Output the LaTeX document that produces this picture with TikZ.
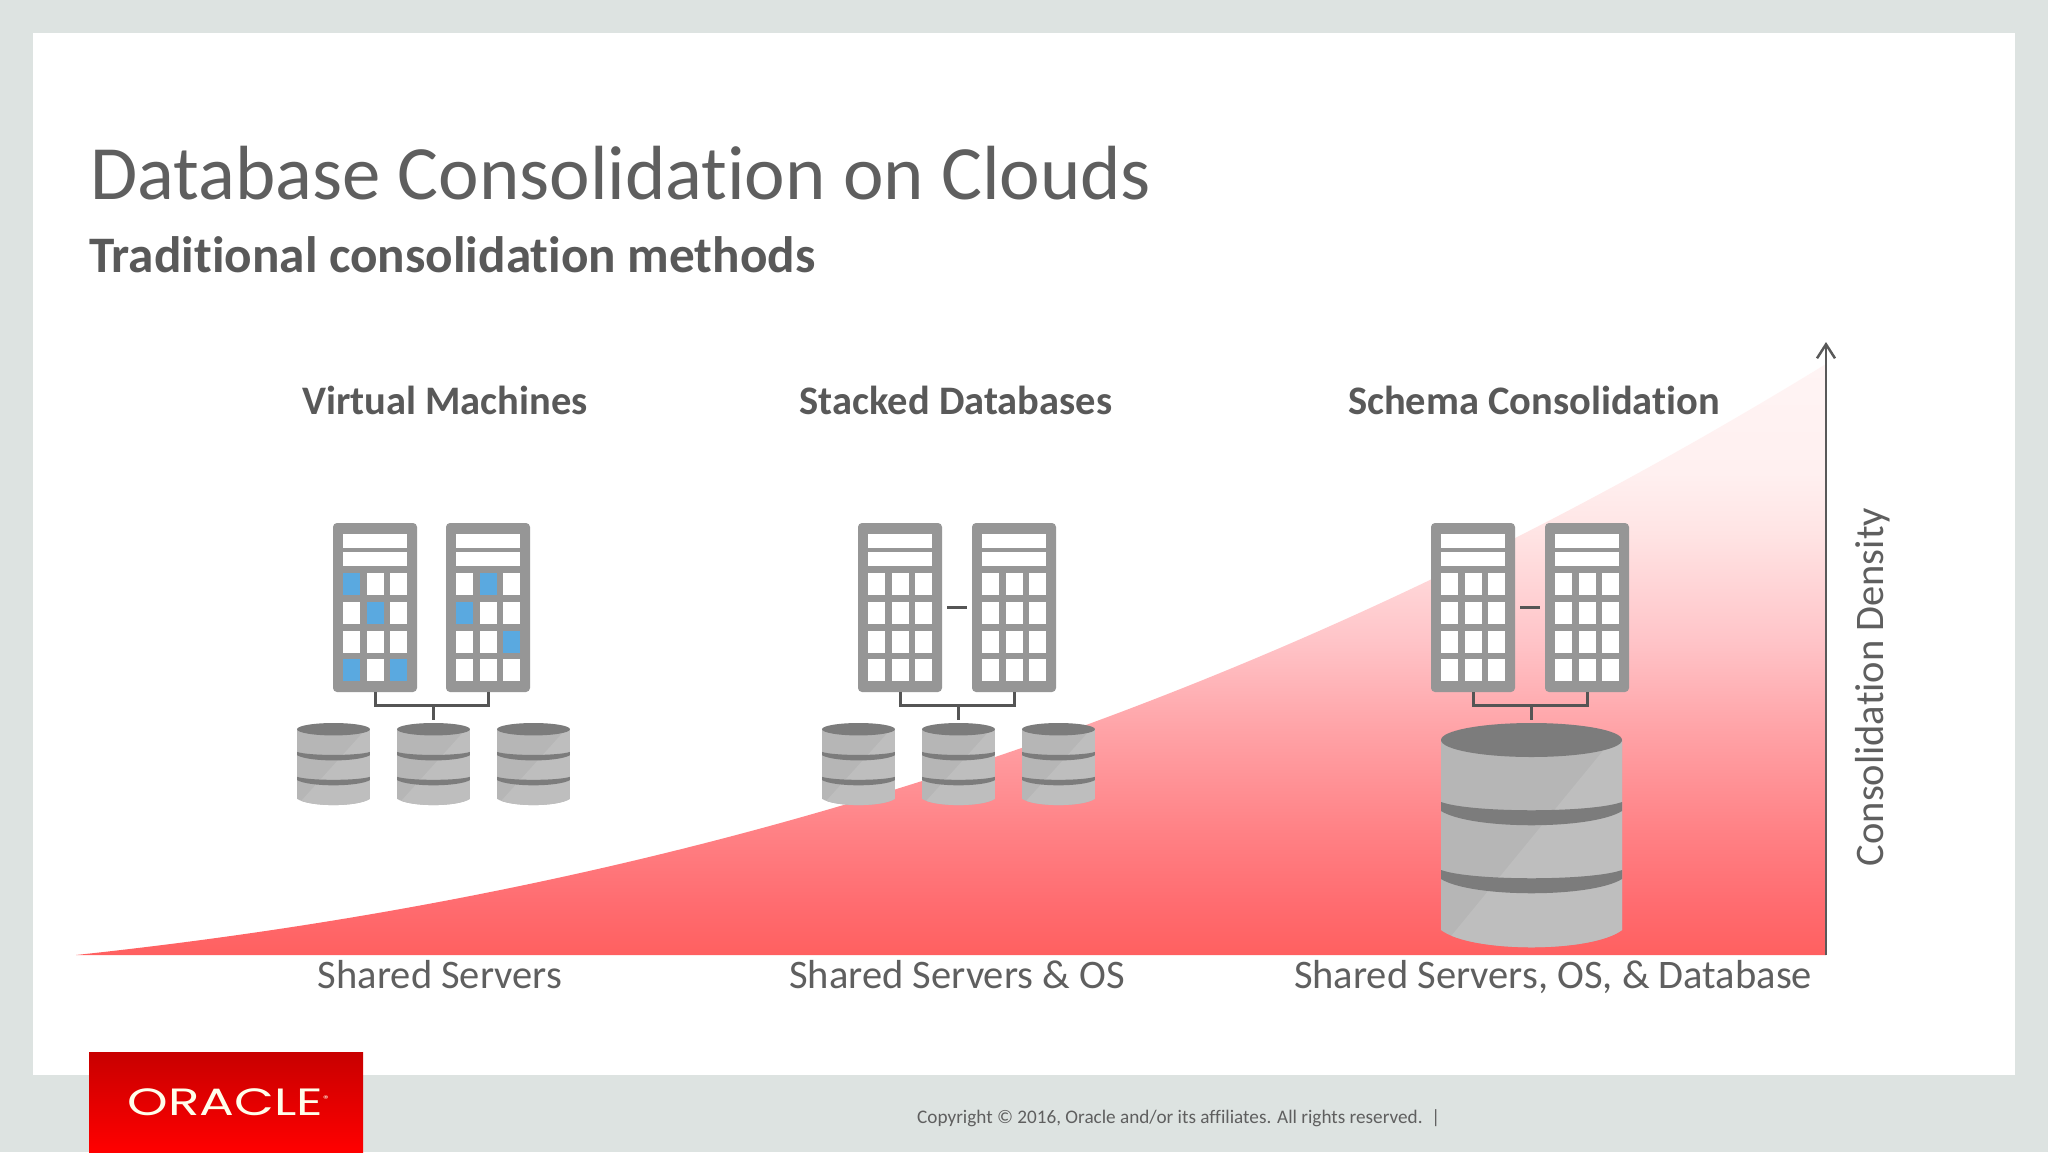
\documentclass[tikz,border=0pt]{standalone}
\usepackage{fontspec}
\setmainfont[RawFeature=-liga]{Carlito}
\newfontfamily\logofont{Poppins}
\usetikzlibrary{arrows.meta}
\definecolor{slidebg}{HTML}{DDE3E1}
\definecolor{inkgray}{HTML}{5F5F5F}
\definecolor{headgray}{HTML}{595959}
\definecolor{srvgray}{HTML}{969696}
\definecolor{connc}{HTML}{555555}
\definecolor{dbbody}{HTML}{B6B6B6}
\definecolor{dblight}{HTML}{BEBEBE}
\definecolor{dbdark}{HTML}{7C7C7C}
\definecolor{cellblue}{HTML}{5AA9E0}
\definecolor{wa}{HTML}{FF6060}
\definecolor{wb}{HTML}{FF6C70}
\definecolor{wc}{HTML}{FF8084}
\definecolor{wd}{HTML}{FFA0A4}
\definecolor{we}{HTML}{FFC4C8}
\definecolor{wf}{HTML}{FFE4E4}
\definecolor{wg}{HTML}{FFF0F0}
\definecolor{wh}{HTML}{FFF4F4}
\pgfdeclareverticalshading{wedgeshade}{100bp}{color(0bp)=(wa); color(25bp)=(wa); color(29.4bp)=(wb); color(35.2bp)=(wc); color(43.4bp)=(wd); color(51.6bp)=(we); color(60.7bp)=(wf); color(65.8bp)=(wg); color(75bp)=(wh); color(100bp)=(wh)}
\tikzset{
  txt/.style={inner sep=0pt,anchor=base},
  titletxt/.style={txt,anchor=base west,text=inkgray,font=\fontsize{76.8}{77}\selectfont},
  subtxt/.style={txt,anchor=base west,text=headgray,font=\fontsize{51.2}{52}\selectfont\bfseries},
  headtxt/.style={txt,text=headgray,font=\fontsize{40.5}{41}\selectfont\bfseries},
  bottxt/.style={txt,text=inkgray,font=\fontsize{40.5}{41}\selectfont},
  srvbox/.style={fill=srvgray,rounded corners=4pt,minimum width=84pt,minimum height=169pt,inner sep=0pt,draw=none},
  dbbox/.style={inner sep=0pt,anchor=north,draw=none},
  conn/.style={draw=connc,line width=3pt},
}
\newcommand{\serverbox}[2]{%
  \node[srvbox] (#1) at (#2,607.5) {};
  \begin{scope}[shift={(#1.north west)}]
    \fill[white] (10,11) rectangle (74,25);
    \fill[white] (10,29) rectangle (74,43);
    \foreach \r in {50,79,108,136}{\foreach \c in {10,34,57}{\fill[white] (\c,\r) rectangle ++(17,22);}}
  \end{scope}}
\newcommand{\bluecell}[3]{%
  \begin{scope}[shift={(#1.north west)}]\fill[cellblue] (#2,#3) rectangle ++(17,22);\end{scope}}
\newcommand{\dbicon}[5]{% name, cx, top, xscale, yscale
  \node[dbbox,minimum width=#4*181pt,minimum height=#5*224pt] (#1) at (#2,#3) {};
  \begin{scope}[shift={(#2,#3)},xscale=#4,yscale=#5]
    \fill[dbbody] (-90.5,17) -- (-90.5,207) .. controls (-60,230) and (60,230) .. (90.5,207) -- (90.5,17) -- cycle;
    \begin{scope}
      \clip (-90.5,17) -- (-90.5,207) .. controls (-60,230) and (60,230) .. (90.5,207) -- (90.5,17) -- cycle;
      \fill[dblight] (86,10) -- (-100,237) -- (100,237) -- (100,10) -- cycle;
    \end{scope}
    \fill[dbdark] (0,17) ellipse [x radius=90.5,y radius=17];
    \fill[dbdark] (-90.5,79) .. controls (-60,90) and (60,90) .. (90.5,79) -- (90.5,88) .. controls (60,107) and (-60,107) .. (-90.5,88) -- cycle;
    \fill[dbdark] (-90.5,147) .. controls (-60,158) and (60,158) .. (90.5,147) -- (90.5,156) .. controls (60,175) and (-60,175) .. (-90.5,156) -- cycle;
  \end{scope}}
\begin{document}
\begin{tikzpicture}[x=1pt,y=-1pt]
\useasboundingbox (0,0) rectangle (2048,1152);
\fill[slidebg] (0,0) rectangle (2048,1152);
\fill[white] (33,33) rectangle (2015,1075);

% density wedge
\shade[shading=wedgeshade]
  (76,955) .. controls (780,880) and (1330,668) .. (1826,364) -- (1826,955) -- cycle;

% axis
\coordinate (axis0) at (1826,955);
\coordinate (axis1) at (1826,342);
\draw[draw=headgray,line width=2.5pt,-{Straight Barb[length=14pt,width=18pt,line width=2.5pt]}] (axis0) -- (axis1);

% titles
\node[titletxt] (title) at (90,199) {Database Consolidation on Clouds};
\node[subtxt] (subtitle) at (89,272) {Traditional consolidation methods};
\node[headtxt] (h1) at (445,414) {Virtual Machines};
\node[headtxt] (h2) at (956,414) {Stacked Databases};
\node[headtxt] (h3) at (1534,414) {Schema Consolidation};
\node[bottxt] (b1) at (440,988) {Shared Servers};
\node[bottxt] (b2) at (957,988) {Shared Servers \& OS};
\node[bottxt] (b3) at (1553,988) {Shared Servers, OS, \& Database};
\node[txt,text=inkgray,font=\fontsize{40.5}{41}\selectfont,rotate=90] (density) at (1883,687) {Consolidation Density};

% group 1
\serverbox{s1}{375}
\serverbox{s2}{488}
\bluecell{s1}{10}{50}\bluecell{s1}{34}{79}\bluecell{s1}{10}{136}\bluecell{s1}{57}{136}
\bluecell{s2}{34}{50}\bluecell{s2}{10}{79}\bluecell{s2}{57}{108}
\dbicon{d1}{333.5}{723}{0.403}{0.366}
\dbicon{d2}{433.5}{723}{0.403}{0.366}
\dbicon{d3}{533.5}{723}{0.403}{0.366}
\coordinate (bus1) at (433.5,705);
\draw[conn] (s1.south) |- (bus1) -| (s2.south);
\draw[conn] (bus1) -- ([yshift=3pt]d2.north);

% group 2
\serverbox{s3}{900}
\serverbox{s4}{1014}
\dbicon{d4}{858.5}{723}{0.403}{0.366}
\dbicon{d5}{958.5}{723}{0.403}{0.366}
\dbicon{d6}{1058.5}{723}{0.403}{0.366}
\draw[conn] (s3.east) ++(5,0) coordinate (l3) -- ++(20,0) coordinate (l4);
\coordinate (bus2) at (958.5,705);
\draw[conn] (s3.south) |- (bus2) -| (s4.south);
\draw[conn] (bus2) -- ([yshift=3pt]d5.north);

% group 3
\serverbox{s5}{1473}
\serverbox{s6}{1587}
\dbicon{d7}{1531.5}{723}{1}{1}
\draw[conn] (s5.east) ++(5,0) coordinate (l5) -- ++(20,0) coordinate (l6);
\coordinate (bus3) at (1531.5,705);
\draw[conn] (s5.south) |- (bus3) -| (s6.south);
\draw[conn] (bus3) -- ([yshift=3pt]d7.north);

% logo
\fill[top color={rgb,255:red,200;green,0;blue,0},bottom color={rgb,255:red,255;green,0;blue,0}] (89,1052) rectangle (363,1152);
\node[txt,text=white!92!yellow,font=\logofont\fontsize{38}{38}\selectfont,xscale=1.36] (logo) at (228,1115) {ORACLE\raisebox{14pt}{\fontsize{8}{8}\selectfont®}};

% footer
\node[txt,anchor=base west,text=inkgray,font=\fontsize{19.2}{19.2}\selectfont] (copy) at (917,1123) {Copyright © 2016, Oracle and/or its affiliates. All rights reserved.~~|};
\end{tikzpicture}
\end{document}
